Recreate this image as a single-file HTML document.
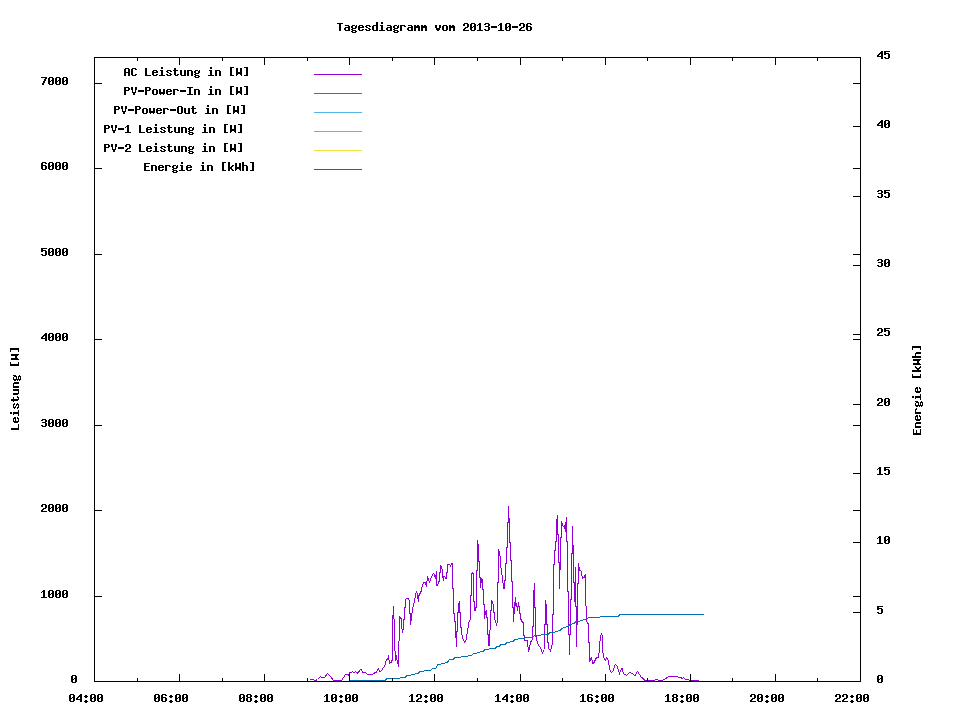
<!DOCTYPE html>
<html><head><meta charset="utf-8"><title>Tagesdiagramm</title>
<style>html,body{margin:0;padding:0;background:#fff;overflow:hidden}svg{display:block}</style></head>
<body><svg width="960" height="720" viewBox="0 0 960 720" shape-rendering="crispEdges">
<defs><path id="c45" d="M0 6h6v1h-6zM0 7h6v1h-6z"/><path id="c48" d="M1 3h4v1h-4zM0 4h2v1h-2zM4 4h2v1h-2zM0 5h2v1h-2zM4 5h2v1h-2zM0 6h2v1h-2zM3 6h3v1h-3zM0 7h3v1h-3zM4 7h2v1h-2zM0 8h2v1h-2zM4 8h2v1h-2zM0 9h2v1h-2zM4 9h2v1h-2zM1 10h4v1h-4z"/><path id="c49" d="M2 3h2v1h-2zM1 4h3v1h-3zM0 5h1v1h-1zM2 5h2v1h-2zM2 6h2v1h-2zM2 7h2v1h-2zM2 8h2v1h-2zM2 9h2v1h-2zM0 10h6v1h-6z"/><path id="c50" d="M1 3h4v1h-4zM0 4h2v1h-2zM4 4h2v1h-2zM0 5h2v1h-2zM4 5h2v1h-2zM4 6h2v1h-2zM2 7h3v1h-3zM1 8h2v1h-2zM0 9h2v1h-2zM0 10h6v1h-6z"/><path id="c51" d="M1 3h4v1h-4zM0 4h2v1h-2zM4 4h2v1h-2zM4 5h2v1h-2zM1 6h4v1h-4zM4 7h2v1h-2zM4 8h2v1h-2zM0 9h2v1h-2zM4 9h2v1h-2zM1 10h4v1h-4z"/><path id="c52" d="M4 3h2v1h-2zM3 4h3v1h-3zM2 5h4v1h-4zM1 6h2v1h-2zM4 6h2v1h-2zM0 7h2v1h-2zM4 7h2v1h-2zM0 8h6v1h-6zM4 9h2v1h-2zM4 10h2v1h-2z"/><path id="c53" d="M0 3h6v1h-6zM0 4h2v1h-2zM0 5h5v1h-5zM0 6h2v1h-2zM4 6h2v1h-2zM4 7h2v1h-2zM4 8h2v1h-2zM0 9h2v1h-2zM4 9h2v1h-2zM1 10h4v1h-4z"/><path id="c54" d="M1 3h4v1h-4zM0 4h2v1h-2zM4 4h2v1h-2zM0 5h2v1h-2zM0 6h5v1h-5zM0 7h2v1h-2zM4 7h2v1h-2zM0 8h2v1h-2zM4 8h2v1h-2zM0 9h2v1h-2zM4 9h2v1h-2zM1 10h4v1h-4z"/><path id="c55" d="M0 3h6v1h-6zM4 4h2v1h-2zM3 5h2v1h-2zM3 6h2v1h-2zM2 7h2v1h-2zM2 8h2v1h-2zM1 9h2v1h-2zM1 10h2v1h-2z"/><path id="c56" d="M1 3h4v1h-4zM0 4h2v1h-2zM4 4h2v1h-2zM0 5h2v1h-2zM4 5h2v1h-2zM1 6h4v1h-4zM0 7h2v1h-2zM4 7h2v1h-2zM0 8h2v1h-2zM4 8h2v1h-2zM0 9h2v1h-2zM4 9h2v1h-2zM1 10h4v1h-4z"/><path id="c58" d="M2 4h2v1h-2zM1 5h4v1h-4zM2 6h2v1h-2zM2 9h2v1h-2zM1 10h4v1h-4zM2 11h2v1h-2z"/><path id="c65" d="M1 3h4v1h-4zM0 4h2v1h-2zM4 4h2v1h-2zM0 5h2v1h-2zM4 5h2v1h-2zM0 6h2v1h-2zM4 6h2v1h-2zM0 7h6v1h-6zM0 8h2v1h-2zM4 8h2v1h-2zM0 9h2v1h-2zM4 9h2v1h-2zM0 10h2v1h-2zM4 10h2v1h-2z"/><path id="c67" d="M1 3h4v1h-4zM0 4h2v1h-2zM4 4h2v1h-2zM0 5h2v1h-2zM0 6h2v1h-2zM0 7h2v1h-2zM0 8h2v1h-2zM0 9h2v1h-2zM4 9h2v1h-2zM1 10h4v1h-4z"/><path id="c69" d="M0 3h6v1h-6zM0 4h2v1h-2zM0 5h2v1h-2zM0 6h5v1h-5zM0 7h2v1h-2zM0 8h2v1h-2zM0 9h2v1h-2zM0 10h6v1h-6z"/><path id="c73" d="M0 3h6v1h-6zM2 4h2v1h-2zM2 5h2v1h-2zM2 6h2v1h-2zM2 7h2v1h-2zM2 8h2v1h-2zM2 9h2v1h-2zM0 10h6v1h-6z"/><path id="c76" d="M0 3h2v1h-2zM0 4h2v1h-2zM0 5h2v1h-2zM0 6h2v1h-2zM0 7h2v1h-2zM0 8h2v1h-2zM0 9h2v1h-2zM0 10h6v1h-6z"/><path id="c79" d="M1 3h4v1h-4zM0 4h2v1h-2zM4 4h2v1h-2zM0 5h2v1h-2zM4 5h2v1h-2zM0 6h2v1h-2zM4 6h2v1h-2zM0 7h2v1h-2zM4 7h2v1h-2zM0 8h2v1h-2zM4 8h2v1h-2zM0 9h2v1h-2zM4 9h2v1h-2zM1 10h4v1h-4z"/><path id="c80" d="M0 3h5v1h-5zM0 4h2v1h-2zM4 4h2v1h-2zM0 5h2v1h-2zM4 5h2v1h-2zM0 6h5v1h-5zM0 7h2v1h-2zM0 8h2v1h-2zM0 9h2v1h-2zM0 10h2v1h-2z"/><path id="c84" d="M0 3h6v1h-6zM2 4h2v1h-2zM2 5h2v1h-2zM2 6h2v1h-2zM2 7h2v1h-2zM2 8h2v1h-2zM2 9h2v1h-2zM2 10h2v1h-2z"/><path id="c86" d="M0 3h2v1h-2zM4 3h2v1h-2zM0 4h2v1h-2zM4 4h2v1h-2zM0 5h2v1h-2zM4 5h2v1h-2zM1 6h1v1h-1zM4 6h1v1h-1zM1 7h1v1h-1zM4 7h1v1h-1zM1 8h4v1h-4zM2 9h2v1h-2zM2 10h2v1h-2z"/><path id="c87" d="M0 3h2v1h-2zM4 3h2v1h-2zM0 4h2v1h-2zM4 4h2v1h-2zM0 5h2v1h-2zM4 5h2v1h-2zM0 6h2v1h-2zM4 6h2v1h-2zM0 7h6v1h-6zM0 8h6v1h-6zM0 9h2v1h-2zM4 9h2v1h-2zM0 10h1v1h-1zM5 10h1v1h-1z"/><path id="c91" d="M1 2h4v1h-4zM1 3h2v1h-2zM1 4h2v1h-2zM1 5h2v1h-2zM1 6h2v1h-2zM1 7h2v1h-2zM1 8h2v1h-2zM1 9h2v1h-2zM1 10h4v1h-4z"/><path id="c93" d="M1 2h4v1h-4zM3 3h2v1h-2zM3 4h2v1h-2zM3 5h2v1h-2zM3 6h2v1h-2zM3 7h2v1h-2zM3 8h2v1h-2zM3 9h2v1h-2zM1 10h4v1h-4z"/><path id="c97" d="M1 5h4v1h-4zM4 6h2v1h-2zM1 7h5v1h-5zM0 8h2v1h-2zM4 8h2v1h-2zM0 9h2v1h-2zM4 9h2v1h-2zM1 10h5v1h-5z"/><path id="c100" d="M4 2h2v1h-2zM4 3h2v1h-2zM4 4h2v1h-2zM1 5h5v1h-5zM0 6h2v1h-2zM4 6h2v1h-2zM0 7h2v1h-2zM4 7h2v1h-2zM0 8h2v1h-2zM4 8h2v1h-2zM0 9h2v1h-2zM4 9h2v1h-2zM1 10h5v1h-5z"/><path id="c101" d="M1 5h4v1h-4zM0 6h2v1h-2zM4 6h2v1h-2zM0 7h6v1h-6zM0 8h2v1h-2zM0 9h2v1h-2zM4 9h2v1h-2zM1 10h4v1h-4z"/><path id="c103" d="M1 5h3v1h-3zM5 5h1v1h-1zM0 6h2v1h-2zM4 6h2v1h-2zM0 7h2v1h-2zM4 7h2v1h-2zM1 8h4v1h-4zM0 9h2v1h-2zM1 10h4v1h-4zM0 11h2v1h-2zM4 11h2v1h-2zM1 12h4v1h-4z"/><path id="c104" d="M0 2h2v1h-2zM0 3h2v1h-2zM0 4h2v1h-2zM0 5h5v1h-5zM0 6h2v1h-2zM4 6h2v1h-2zM0 7h2v1h-2zM4 7h2v1h-2zM0 8h2v1h-2zM4 8h2v1h-2zM0 9h2v1h-2zM4 9h2v1h-2zM0 10h2v1h-2zM4 10h2v1h-2z"/><path id="c105" d="M2 2h2v1h-2zM2 3h2v1h-2zM1 5h3v1h-3zM2 6h2v1h-2zM2 7h2v1h-2zM2 8h2v1h-2zM2 9h2v1h-2zM0 10h6v1h-6z"/><path id="c107" d="M0 2h2v1h-2zM0 3h2v1h-2zM0 4h2v1h-2zM0 5h2v1h-2zM4 5h2v1h-2zM0 6h2v1h-2zM3 6h2v1h-2zM0 7h4v1h-4zM0 8h4v1h-4zM0 9h2v1h-2zM3 9h2v1h-2zM0 10h2v1h-2zM4 10h2v1h-2z"/><path id="c109" d="M0 5h2v1h-2zM3 5h2v1h-2zM0 6h6v1h-6zM0 7h6v1h-6zM0 8h2v1h-2zM4 8h2v1h-2zM0 9h2v1h-2zM4 9h2v1h-2zM0 10h2v1h-2zM4 10h2v1h-2z"/><path id="c110" d="M0 5h5v1h-5zM0 6h2v1h-2zM4 6h2v1h-2zM0 7h2v1h-2zM4 7h2v1h-2zM0 8h2v1h-2zM4 8h2v1h-2zM0 9h2v1h-2zM4 9h2v1h-2zM0 10h2v1h-2zM4 10h2v1h-2z"/><path id="c111" d="M1 5h4v1h-4zM0 6h2v1h-2zM4 6h2v1h-2zM0 7h2v1h-2zM4 7h2v1h-2zM0 8h2v1h-2zM4 8h2v1h-2zM0 9h2v1h-2zM4 9h2v1h-2zM1 10h4v1h-4z"/><path id="c114" d="M0 5h5v1h-5zM0 6h2v1h-2zM4 6h2v1h-2zM0 7h2v1h-2zM0 8h2v1h-2zM0 9h2v1h-2zM0 10h2v1h-2z"/><path id="c115" d="M1 5h4v1h-4zM0 6h2v1h-2zM4 6h2v1h-2zM1 7h2v1h-2zM3 8h2v1h-2zM0 9h2v1h-2zM4 9h2v1h-2zM1 10h4v1h-4z"/><path id="c116" d="M1 3h2v1h-2zM1 4h2v1h-2zM0 5h5v1h-5zM1 6h2v1h-2zM1 7h2v1h-2zM1 8h2v1h-2zM1 9h2v1h-2zM4 9h2v1h-2zM2 10h3v1h-3z"/><path id="c117" d="M0 5h2v1h-2zM4 5h2v1h-2zM0 6h2v1h-2zM4 6h2v1h-2zM0 7h2v1h-2zM4 7h2v1h-2zM0 8h2v1h-2zM4 8h2v1h-2zM0 9h2v1h-2zM4 9h2v1h-2zM1 10h5v1h-5z"/><path id="c118" d="M0 5h2v1h-2zM4 5h2v1h-2zM0 6h2v1h-2zM4 6h2v1h-2zM0 7h2v1h-2zM4 7h2v1h-2zM1 8h4v1h-4zM1 9h4v1h-4zM2 10h2v1h-2z"/><path id="c119" d="M0 5h2v1h-2zM4 5h2v1h-2zM0 6h2v1h-2zM4 6h2v1h-2zM0 7h2v1h-2zM4 7h2v1h-2zM0 8h6v1h-6zM0 9h6v1h-6zM1 10h1v1h-1zM4 10h1v1h-1z"/></defs>
<rect width="960" height="720" fill="#fff"/>
<rect x="314" y="74" width="48" height="1" fill="#9400d3"/><rect x="314" y="93" width="48" height="1" fill="#009e73"/><rect x="314" y="112" width="48" height="1" fill="#56b4e9"/><rect x="314" y="131" width="48" height="1" fill="#e69f00"/><rect x="314" y="150" width="48" height="1" fill="#f0e442"/><rect x="314" y="169" width="48" height="1" fill="#0072b2"/>
<polyline fill="none" stroke="#9400d3" stroke-width="1" shape-rendering="crispEdges" points="309.5,680.5 310.5,679.5 313.5,679.5 314.5,680.5 315.5,680.5 317.5,679.5 320.5,676.5 321.5,677.5 324.5,677.5 327.5,673.5 330.5,676.5 333.5,680.5 341.5,680.5 345.5,674.5 348.5,674.5 348.5,675.5 349.5,673 350.5,672.5 351.5,672.5 352.5,671.5 353.5,672.5 354.5,672.5 355.5,671.5 357.5,673.5 358.5,671.5 359.5,671 360.5,669.5 361.5,670 362.5,672.5 364.5,672.5 365.5,672.5 367.5,674.5 372.5,674.5 373.5,673.5 375.5,672.5 376.5,672.5 377.5,670 378.5,668.5 379.5,671.5 380.5,671.5 381.5,670.5 382.5,669 384,667 385.5,664 386,661 387.5,659 388.5,656.5 389.5,663.5 391,662.5 391.5,661.5 392.5,659.5 392.5,632 393.3,606 394.1,620.6 394.7,646 395.6,660.6 396.1,655.6 397.2,660.6 398.5,666.5 399.5,617 400.5,618 401.5,619 401.5,626 402.5,631 403.5,628 403.5,620 404.5,619.5 404.5,608 405.5,607.5 405.5,600 406.5,598.5 408.5,598.5 409.5,601 409.5,613.5 410.5,614 410.5,624.5 411.5,618 412.5,609 413.5,605 414.5,601 415.5,595 416.5,591 417.5,595.5 418.5,601.5 418.5,597 419.5,594 420.5,593 421.5,590 422.5,585 423.5,582.5 425.5,582.5 426.5,586.5 427.5,576.5 429.4,582 430.5,580 431.5,576.5 433.5,573.5 434.5,574.5 435.5,578.5 436.5,571 436.5,585 437.5,585.5 438.5,582 439.5,581.5 439.5,573 440.5,572.5 440.5,565 441.5,567.5 442.5,570 442.5,576 443.5,580.5 443.5,576 444.5,576 445.5,578.5 446.5,578.5 446.5,572.5 447.5,572 447.5,565 448.5,564 449.5,564 450.5,566 451.5,564 452.5,563.5 452.5,588 453.5,588.5 453.5,613.5 454.5,614 454.5,621.5 455.5,622 455.5,637.5 456.5,638 456.5,646.5 456.5,632 457.5,631.5 457.5,612.5 458.5,612 458.5,605 459.5,601 459.5,612.5 460.5,613 460.5,627.5 461.5,628 461.5,633 463.3,640 464.6,642.5 466.25,639.5 468.75,623 470.5,619 470.5,596 471.5,595.5 471.5,574 472.5,573 473.5,574 473.5,601 474.5,601.5 474.5,610 475.5,610 475.5,608 476.5,607.5 476.5,571 477.5,570.5 477.5,540 478.5,548 478.5,561.5 479.5,562 479.5,577.5 480.5,578 480.5,588 481.5,578.5 482.5,580 482.5,589 483.5,589.5 483.5,604 484.5,604.5 484.5,619 485.5,612 486.5,611 486.5,617.5 487.5,618 487.5,634 488.5,634.5 488.5,645 489.5,645 489.5,634 490.5,626 490.5,610.5 491.5,610 491.5,600 492.5,602 493.5,605.5 493.5,612.5 494.5,613 494.5,619.5 495.5,621 496.5,625.5 497.5,621 497.5,583 498.5,582 498.5,549 500,555.6 501,568 503,582.5 503.5,588 504.5,588 504.5,581 505.5,580.5 505.5,564 506.5,563.5 506.5,548 507.5,547.5 507.5,523 508.5,522.5 508.5,506 508.5,518 509.5,518.5 509.5,542 510.5,542.5 510.5,560 511.5,560.5 511.5,581 512.5,581.5 512.5,607.5 513.5,608 513.5,621.5 514.5,606 515.5,597.5 515.5,606 516.5,603 517.5,610.5 518.5,602 518.5,606 519.5,606.5 519.5,613 520.5,613.5 520.5,618 521.5,621 522.5,622 523.5,623 523.5,631 524.6,640.6 527.3,640.6 528.5,652 530.7,642 532.5,639 532.5,627 533.5,626.5 533.5,598 534.5,583 534.5,607 535.5,607.5 535.5,633.5 536.6,640 538.2,644.8 540.3,647.5 542.4,653 544,649.7 544.5,625 545.5,624 545.5,600 546.5,608 546.5,624 547.5,624.5 547.5,639 548.9,648.6 550.5,650.7 552.5,642.7 552.5,615 553.5,614 553.5,565 554.5,564 554.5,551 555.5,550.5 555.5,542 556.5,541.5 556.5,524 557.5,515 557.5,534 558.5,534.5 558.5,562 559.5,562.5 559.5,589 559.5,570 560.5,569 560.5,538 561.5,537.5 561.5,521 562.5,525 563.5,526.5 564.5,526 565.5,532 565.5,527 566.5,517 566.5,541.5 567.5,542 567.5,591 568.5,591.5 568.5,634.5 569.5,635 569.5,654.5 569.5,635 570.5,634 570.5,600 571.5,599 571.5,554 572.5,553 572.5,526 572.5,545 573.5,546 573.5,582 574.5,583 574.5,602 575.5,567 575.5,606 576.5,607 576.5,647 576.5,625 577.5,624 577.5,584 578.5,583 578.5,563 579.5,570 581,571 582.5,578 584,577.5 585.5,574.5 585.5,598 587,622 588.5,624 588.5,642.5 589.5,643 589.5,662 590.5,660 591.5,657 592.5,663.5 593.5,663.5 595.5,659.5 596.5,657.5 598.5,657.5 599,653 599.5,645 600.5,637 601.5,633 602.5,637.5 602.5,648.5 603.5,657.5 605.5,660.5 606.5,657.5 608.5,660.5 609.5,669.5 611.5,672.5 613,671.5 614.5,666 615.5,664.5 617,666 619.5,673.5 622,668 623.5,673.5 626.5,675.5 629.5,672.5 632,673.5 635,675.5 637.5,671.5 640.5,676 641.5,677.5 643.5,678.5 644.5,680.5 654.5,680.5 655.5,679.5 657.5,679.5 658.5,680.5 662.5,680.5 663.5,679.5 666,678.5 668.5,676.5 677.5,676.5 679,677.5 681,677.5 682,678.5 683.5,677.5 685.5,679.5 688,679.5 689.5,680.5 698.5,680.5"/>
<polyline fill="none" stroke="#0072b2" stroke-width="1" shape-rendering="crispEdges" points="350.2,680.5 385.8,680.5 386.2,678.5 399.8,678.5 400.2,677.5 405.8,677.5 406.2,675.5 410.8,675.5 411.2,674.5 414.8,674.5 415.2,673.5 418.8,673.5 419.2,671.5 423.8,671.5 424.2,670.5 430.8,670.5 431.2,669.5 431.8,669.5 432.2,668.5 435.8,668.5 436.2,667.5 436.8,667.5 437.2,664.5 440.8,664.5 441.2,663.5 444.8,663.5 445.2,662.5 447.8,662.5 448.2,660.5 448.8,660.5 449.2,659.5 453.8,659.5 454.2,657.5 460.8,657.5 461.2,656.5 467.8,656.5 468.2,655.5 471.8,655.5 473.2,653.5 476.8,653.5 477.2,652.5 479.8,652.5 480.2,651.5 483.8,651.5 484.2,649.5 488.8,649.5 489.2,648.5 495.8,648.5 496.2,646.5 499.8,646.5 500.2,644.5 505.8,644.5 506.2,642.5 509.8,642.5 510.2,641.5 513.8,641.5 514.2,639.5 517.8,639.5 518.2,638.5 524.8,638.5 525.2,637.5 532.8,637.5 534.2,635.5 540.8,635.5 541.2,634.5 548.8,634.5 549.2,632.5 554.8,632.5 555.2,631.5 557.8,631.5 558.2,630.5 560.8,630.5 561.2,628.5 562.8,628.5 563.2,627.5 565.8,627.5 566.2,626.5 568.8,626.5 569.2,624.5 571.8,624.5 572.2,623.5 574.8,623.5 575.2,621.5 579.8,621.5 580.2,620.5 582.8,620.5 583.2,619.5 586.8,619.5 587.2,618.5 587.8,618.5 588.2,617.5 599.8,617.5 600.2,616.5 618.8,616.5 619.2,614.5 703.8,614.5"/>
<rect x="94" y="57" width="767" height="1" fill="#000"/><rect x="94" y="681" width="767" height="1" fill="#000"/><rect x="94" y="57" width="1" height="625" fill="#000"/><rect x="860" y="57" width="1" height="625" fill="#000"/><rect x="94" y="681" width="8" height="1" fill="#000"/><rect x="853" y="681" width="8" height="1" fill="#000"/><rect x="94" y="596" width="8" height="1" fill="#000"/><rect x="853" y="596" width="8" height="1" fill="#000"/><rect x="94" y="510" width="8" height="1" fill="#000"/><rect x="853" y="510" width="8" height="1" fill="#000"/><rect x="94" y="425" width="8" height="1" fill="#000"/><rect x="853" y="425" width="8" height="1" fill="#000"/><rect x="94" y="339" width="8" height="1" fill="#000"/><rect x="853" y="339" width="8" height="1" fill="#000"/><rect x="94" y="254" width="8" height="1" fill="#000"/><rect x="853" y="254" width="8" height="1" fill="#000"/><rect x="94" y="168" width="8" height="1" fill="#000"/><rect x="853" y="168" width="8" height="1" fill="#000"/><rect x="94" y="83" width="8" height="1" fill="#000"/><rect x="853" y="83" width="8" height="1" fill="#000"/><rect x="853" y="681" width="8" height="1" fill="#000"/><rect x="853" y="612" width="8" height="1" fill="#000"/><rect x="853" y="542" width="8" height="1" fill="#000"/><rect x="853" y="473" width="8" height="1" fill="#000"/><rect x="853" y="404" width="8" height="1" fill="#000"/><rect x="853" y="334" width="8" height="1" fill="#000"/><rect x="853" y="265" width="8" height="1" fill="#000"/><rect x="853" y="196" width="8" height="1" fill="#000"/><rect x="853" y="126" width="8" height="1" fill="#000"/><rect x="853" y="57" width="8" height="1" fill="#000"/><rect x="94" y="57" width="1" height="8" fill="#000"/><rect x="94" y="674" width="1" height="8" fill="#000"/><rect x="137" y="57" width="1" height="4" fill="#000"/><rect x="137" y="678" width="1" height="4" fill="#000"/><rect x="179" y="57" width="1" height="8" fill="#000"/><rect x="179" y="674" width="1" height="8" fill="#000"/><rect x="222" y="57" width="1" height="4" fill="#000"/><rect x="222" y="678" width="1" height="4" fill="#000"/><rect x="264" y="57" width="1" height="8" fill="#000"/><rect x="264" y="674" width="1" height="8" fill="#000"/><rect x="307" y="57" width="1" height="4" fill="#000"/><rect x="307" y="678" width="1" height="4" fill="#000"/><rect x="349" y="57" width="1" height="8" fill="#000"/><rect x="349" y="674" width="1" height="8" fill="#000"/><rect x="392" y="57" width="1" height="4" fill="#000"/><rect x="392" y="678" width="1" height="4" fill="#000"/><rect x="434" y="57" width="1" height="8" fill="#000"/><rect x="434" y="674" width="1" height="8" fill="#000"/><rect x="477" y="57" width="1" height="4" fill="#000"/><rect x="477" y="678" width="1" height="4" fill="#000"/><rect x="520" y="57" width="1" height="8" fill="#000"/><rect x="520" y="674" width="1" height="8" fill="#000"/><rect x="562" y="57" width="1" height="4" fill="#000"/><rect x="562" y="678" width="1" height="4" fill="#000"/><rect x="605" y="57" width="1" height="8" fill="#000"/><rect x="605" y="674" width="1" height="8" fill="#000"/><rect x="647" y="57" width="1" height="4" fill="#000"/><rect x="647" y="678" width="1" height="4" fill="#000"/><rect x="690" y="57" width="1" height="8" fill="#000"/><rect x="690" y="674" width="1" height="8" fill="#000"/><rect x="732" y="57" width="1" height="4" fill="#000"/><rect x="732" y="678" width="1" height="4" fill="#000"/><rect x="775" y="57" width="1" height="8" fill="#000"/><rect x="775" y="674" width="1" height="8" fill="#000"/><rect x="817" y="57" width="1" height="4" fill="#000"/><rect x="817" y="678" width="1" height="4" fill="#000"/><rect x="860" y="57" width="1" height="8" fill="#000"/><rect x="860" y="674" width="1" height="8" fill="#000"/>
<g fill="#000"><use href="#c48" x="71" y="672"/></g><g fill="#000"><use href="#c49" x="41" y="587"/><use href="#c48" x="48" y="587"/><use href="#c48" x="55" y="587"/><use href="#c48" x="62" y="587"/></g><g fill="#000"><use href="#c50" x="41" y="501"/><use href="#c48" x="48" y="501"/><use href="#c48" x="55" y="501"/><use href="#c48" x="62" y="501"/></g><g fill="#000"><use href="#c51" x="41" y="416"/><use href="#c48" x="48" y="416"/><use href="#c48" x="55" y="416"/><use href="#c48" x="62" y="416"/></g><g fill="#000"><use href="#c52" x="41" y="330"/><use href="#c48" x="48" y="330"/><use href="#c48" x="55" y="330"/><use href="#c48" x="62" y="330"/></g><g fill="#000"><use href="#c53" x="41" y="245"/><use href="#c48" x="48" y="245"/><use href="#c48" x="55" y="245"/><use href="#c48" x="62" y="245"/></g><g fill="#000"><use href="#c54" x="41" y="159"/><use href="#c48" x="48" y="159"/><use href="#c48" x="55" y="159"/><use href="#c48" x="62" y="159"/></g><g fill="#000"><use href="#c55" x="41" y="74"/><use href="#c48" x="48" y="74"/><use href="#c48" x="55" y="74"/><use href="#c48" x="62" y="74"/></g><g fill="#000"><use href="#c48" x="877" y="672"/></g><g fill="#000"><use href="#c53" x="877" y="603"/></g><g fill="#000"><use href="#c49" x="877" y="533"/><use href="#c48" x="884" y="533"/></g><g fill="#000"><use href="#c49" x="877" y="464"/><use href="#c53" x="884" y="464"/></g><g fill="#000"><use href="#c50" x="877" y="395"/><use href="#c48" x="884" y="395"/></g><g fill="#000"><use href="#c50" x="877" y="325"/><use href="#c53" x="884" y="325"/></g><g fill="#000"><use href="#c51" x="877" y="256"/><use href="#c48" x="884" y="256"/></g><g fill="#000"><use href="#c51" x="877" y="187"/><use href="#c53" x="884" y="187"/></g><g fill="#000"><use href="#c52" x="877" y="117"/><use href="#c48" x="884" y="117"/></g><g fill="#000"><use href="#c52" x="877" y="48"/><use href="#c53" x="884" y="48"/></g><g fill="#000"><use href="#c48" x="69" y="691"/><use href="#c52" x="76" y="691"/><use href="#c58" x="83" y="691"/><use href="#c48" x="90" y="691"/><use href="#c48" x="97" y="691"/></g><g fill="#000"><use href="#c48" x="154" y="691"/><use href="#c54" x="161" y="691"/><use href="#c58" x="168" y="691"/><use href="#c48" x="175" y="691"/><use href="#c48" x="182" y="691"/></g><g fill="#000"><use href="#c48" x="239" y="691"/><use href="#c56" x="246" y="691"/><use href="#c58" x="253" y="691"/><use href="#c48" x="260" y="691"/><use href="#c48" x="267" y="691"/></g><g fill="#000"><use href="#c49" x="324" y="691"/><use href="#c48" x="331" y="691"/><use href="#c58" x="338" y="691"/><use href="#c48" x="345" y="691"/><use href="#c48" x="352" y="691"/></g><g fill="#000"><use href="#c49" x="409" y="691"/><use href="#c50" x="416" y="691"/><use href="#c58" x="423" y="691"/><use href="#c48" x="430" y="691"/><use href="#c48" x="437" y="691"/></g><g fill="#000"><use href="#c49" x="495" y="691"/><use href="#c52" x="502" y="691"/><use href="#c58" x="509" y="691"/><use href="#c48" x="516" y="691"/><use href="#c48" x="523" y="691"/></g><g fill="#000"><use href="#c49" x="580" y="691"/><use href="#c54" x="587" y="691"/><use href="#c58" x="594" y="691"/><use href="#c48" x="601" y="691"/><use href="#c48" x="608" y="691"/></g><g fill="#000"><use href="#c49" x="665" y="691"/><use href="#c56" x="672" y="691"/><use href="#c58" x="679" y="691"/><use href="#c48" x="686" y="691"/><use href="#c48" x="693" y="691"/></g><g fill="#000"><use href="#c50" x="750" y="691"/><use href="#c48" x="757" y="691"/><use href="#c58" x="764" y="691"/><use href="#c48" x="771" y="691"/><use href="#c48" x="778" y="691"/></g><g fill="#000"><use href="#c50" x="835" y="691"/><use href="#c50" x="842" y="691"/><use href="#c58" x="849" y="691"/><use href="#c48" x="856" y="691"/><use href="#c48" x="863" y="691"/></g><g fill="#000"><use href="#c84" x="337" y="20"/><use href="#c97" x="344" y="20"/><use href="#c103" x="351" y="20"/><use href="#c101" x="358" y="20"/><use href="#c115" x="365" y="20"/><use href="#c100" x="372" y="20"/><use href="#c105" x="379" y="20"/><use href="#c97" x="386" y="20"/><use href="#c103" x="393" y="20"/><use href="#c114" x="400" y="20"/><use href="#c97" x="407" y="20"/><use href="#c109" x="414" y="20"/><use href="#c109" x="421" y="20"/><use href="#c118" x="435" y="20"/><use href="#c111" x="442" y="20"/><use href="#c109" x="449" y="20"/><use href="#c50" x="463" y="20"/><use href="#c48" x="470" y="20"/><use href="#c49" x="477" y="20"/><use href="#c51" x="484" y="20"/><use href="#c45" x="491" y="20"/><use href="#c49" x="498" y="20"/><use href="#c48" x="505" y="20"/><use href="#c45" x="512" y="20"/><use href="#c50" x="519" y="20"/><use href="#c54" x="526" y="20"/></g><g fill="#000"><use href="#c76" transform="matrix(0,-1,1,0,8,430)"/><use href="#c101" transform="matrix(0,-1,1,0,8,423)"/><use href="#c105" transform="matrix(0,-1,1,0,8,416)"/><use href="#c115" transform="matrix(0,-1,1,0,8,409)"/><use href="#c116" transform="matrix(0,-1,1,0,8,402)"/><use href="#c117" transform="matrix(0,-1,1,0,8,395)"/><use href="#c110" transform="matrix(0,-1,1,0,8,388)"/><use href="#c103" transform="matrix(0,-1,1,0,8,381)"/><use href="#c91" transform="matrix(0,-1,1,0,8,367)"/><use href="#c87" transform="matrix(0,-1,1,0,8,360)"/><use href="#c93" transform="matrix(0,-1,1,0,8,353)"/></g><g fill="#000"><use href="#c69" transform="matrix(0,-1,1,0,910,435)"/><use href="#c110" transform="matrix(0,-1,1,0,910,428)"/><use href="#c101" transform="matrix(0,-1,1,0,910,421)"/><use href="#c114" transform="matrix(0,-1,1,0,910,414)"/><use href="#c103" transform="matrix(0,-1,1,0,910,407)"/><use href="#c105" transform="matrix(0,-1,1,0,910,400)"/><use href="#c101" transform="matrix(0,-1,1,0,910,393)"/><use href="#c91" transform="matrix(0,-1,1,0,910,379)"/><use href="#c107" transform="matrix(0,-1,1,0,910,372)"/><use href="#c87" transform="matrix(0,-1,1,0,910,365)"/><use href="#c104" transform="matrix(0,-1,1,0,910,358)"/><use href="#c93" transform="matrix(0,-1,1,0,910,351)"/></g><g fill="#000"><use href="#c65" x="124" y="65"/><use href="#c67" x="131" y="65"/><use href="#c76" x="145" y="65"/><use href="#c101" x="152" y="65"/><use href="#c105" x="159" y="65"/><use href="#c115" x="166" y="65"/><use href="#c116" x="173" y="65"/><use href="#c117" x="180" y="65"/><use href="#c110" x="187" y="65"/><use href="#c103" x="194" y="65"/><use href="#c105" x="208" y="65"/><use href="#c110" x="215" y="65"/><use href="#c91" x="229" y="65"/><use href="#c87" x="236" y="65"/><use href="#c93" x="243" y="65"/></g><g fill="#000"><use href="#c80" x="124" y="84"/><use href="#c86" x="131" y="84"/><use href="#c45" x="138" y="84"/><use href="#c80" x="145" y="84"/><use href="#c111" x="152" y="84"/><use href="#c119" x="159" y="84"/><use href="#c101" x="166" y="84"/><use href="#c114" x="173" y="84"/><use href="#c45" x="180" y="84"/><use href="#c73" x="187" y="84"/><use href="#c110" x="194" y="84"/><use href="#c105" x="208" y="84"/><use href="#c110" x="215" y="84"/><use href="#c91" x="229" y="84"/><use href="#c87" x="236" y="84"/><use href="#c93" x="243" y="84"/></g><g fill="#000"><use href="#c80" x="114" y="103"/><use href="#c86" x="121" y="103"/><use href="#c45" x="128" y="103"/><use href="#c80" x="135" y="103"/><use href="#c111" x="142" y="103"/><use href="#c119" x="149" y="103"/><use href="#c101" x="156" y="103"/><use href="#c114" x="163" y="103"/><use href="#c45" x="170" y="103"/><use href="#c79" x="177" y="103"/><use href="#c117" x="184" y="103"/><use href="#c116" x="191" y="103"/><use href="#c105" x="205" y="103"/><use href="#c110" x="212" y="103"/><use href="#c91" x="226" y="103"/><use href="#c87" x="233" y="103"/><use href="#c93" x="240" y="103"/></g><g fill="#000"><use href="#c80" x="104" y="122"/><use href="#c86" x="111" y="122"/><use href="#c45" x="118" y="122"/><use href="#c49" x="125" y="122"/><use href="#c76" x="139" y="122"/><use href="#c101" x="146" y="122"/><use href="#c105" x="153" y="122"/><use href="#c115" x="160" y="122"/><use href="#c116" x="167" y="122"/><use href="#c117" x="174" y="122"/><use href="#c110" x="181" y="122"/><use href="#c103" x="188" y="122"/><use href="#c105" x="202" y="122"/><use href="#c110" x="209" y="122"/><use href="#c91" x="223" y="122"/><use href="#c87" x="230" y="122"/><use href="#c93" x="237" y="122"/></g><g fill="#000"><use href="#c80" x="104" y="141"/><use href="#c86" x="111" y="141"/><use href="#c45" x="118" y="141"/><use href="#c50" x="125" y="141"/><use href="#c76" x="139" y="141"/><use href="#c101" x="146" y="141"/><use href="#c105" x="153" y="141"/><use href="#c115" x="160" y="141"/><use href="#c116" x="167" y="141"/><use href="#c117" x="174" y="141"/><use href="#c110" x="181" y="141"/><use href="#c103" x="188" y="141"/><use href="#c105" x="202" y="141"/><use href="#c110" x="209" y="141"/><use href="#c91" x="223" y="141"/><use href="#c87" x="230" y="141"/><use href="#c93" x="237" y="141"/></g><g fill="#000"><use href="#c69" x="144" y="160"/><use href="#c110" x="151" y="160"/><use href="#c101" x="158" y="160"/><use href="#c114" x="165" y="160"/><use href="#c103" x="172" y="160"/><use href="#c105" x="179" y="160"/><use href="#c101" x="186" y="160"/><use href="#c105" x="200" y="160"/><use href="#c110" x="207" y="160"/><use href="#c91" x="221" y="160"/><use href="#c107" x="228" y="160"/><use href="#c87" x="235" y="160"/><use href="#c104" x="242" y="160"/><use href="#c93" x="249" y="160"/></g>
</svg></body></html>
